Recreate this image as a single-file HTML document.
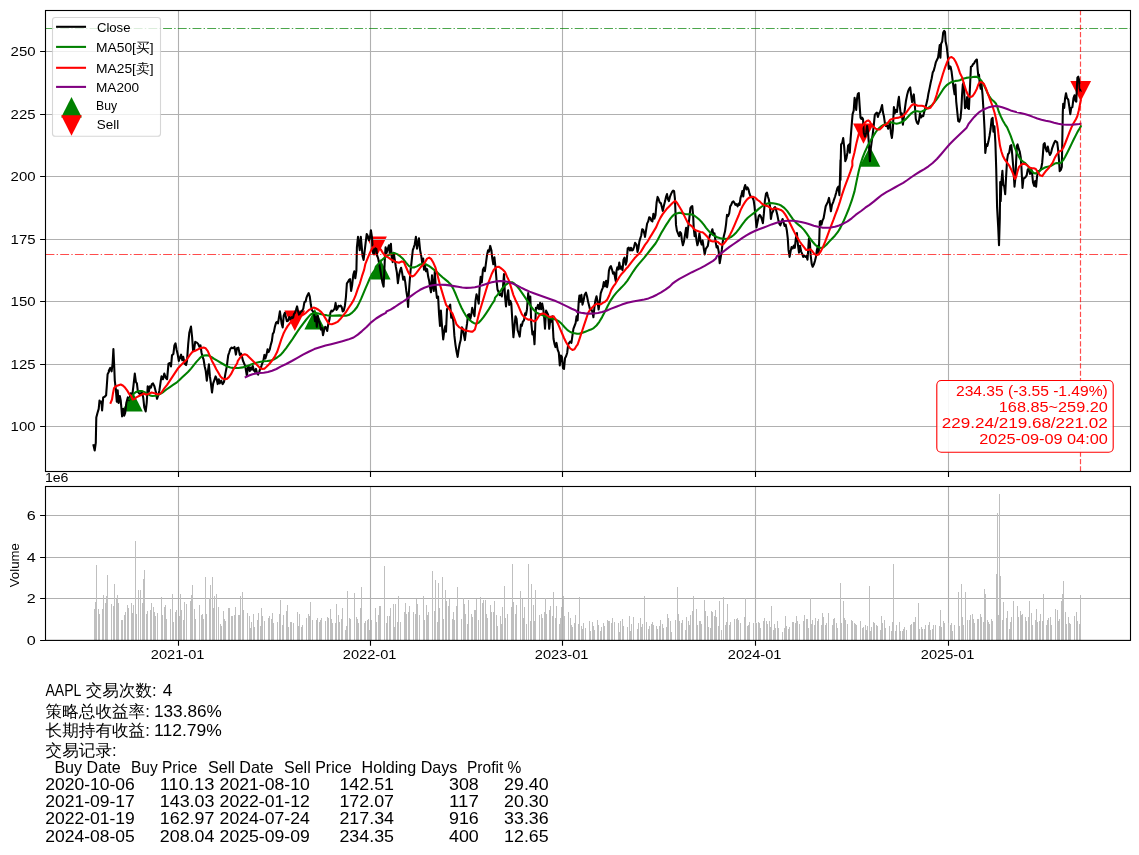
<!DOCTYPE html>
<html lang="zh"><head><meta charset="utf-8"><title>AAPL MA strategy backtest</title>
<style>html,body{margin:0;padding:0;background:#fff}body{width:1139px;height:855px;overflow:hidden}svg{display:block}text{white-space:pre}</style>
</head><body>
<svg width="1139" height="855" viewBox="0 0 1139 855" font-family="'Liberation Sans','WenQuanYi Zen Hei',sans-serif">
<rect width="1139" height="855" fill="#fff"/>
<g id="price-axes">
<polygon points="122.0,411.6 142.8,411.6 132.4,391.2" fill="#008000"/>
<polygon points="304.4,329.4 325.2,329.4 314.8,308.9" fill="#008000"/>
<polygon points="369.8,279.5 390.6,279.5 380.2,259.1" fill="#008000"/>
<polygon points="859.5,166.8 880.3,166.8 869.9,146.4" fill="#008000"/>
<polygon points="284.4,310.5 305.2,310.5 294.8,330.9" fill="#ff0000"/>
<polygon points="366.1,236.6 386.9,236.6 376.5,257.0" fill="#ff0000"/>
<polygon points="853.1,123.4 873.9,123.4 863.5,143.8" fill="#ff0000"/>
<polygon points="1070.3,80.9 1091.1,80.9 1080.7,101.3" fill="#ff0000"/>
<path d="M178.5 10.5 V471.5 M370.5 10.5 V471.5 M562.5 10.5 V471.5 M755.5 10.5 V471.5 M948.5 10.5 V471.5 M45.5 426.5 H1130.5 M45.5 364.5 H1130.5 M45.5 301.5 H1130.5 M45.5 239.5 H1130.5 M45.5 176.5 H1130.5 M45.5 114.5 H1130.5 M45.5 51.5 H1130.5" stroke="#b0b0b0" stroke-width="1.11" fill="none"/>
<clipPath id="c1"><rect x="45.5" y="10.5" width="1085.0" height="461.0"/></clipPath>
<g clip-path="url(#c1)">
<path d="M93.5 445.3 L94.7 450.5 L95.8 442.6 L96.1 426.8 L96.3 417.4 L97.4 413.2 L98.7 408.9 L99.5 400.5 L100.5 402.6 L101.4 401.6 L102.1 410.5 L102.6 404.7 L103.2 397.4 L104.7 396.8 L106.1 395.3 L106.8 385.8 L107.6 374.2 L109.0 371.6 L108.8 370.7 L110.2 367.9 L111.6 371.4 L112.6 363.7 L113.4 349.0 L114.1 363.7 L114.8 380.6 L115.8 389.0 L116.8 401.6 L117.7 390.4 L118.6 403.0 L119.8 396.0 L120.7 400.2 L122.1 416.4 L123.3 408.7 L124.2 415.7 L125.2 412.9 L126.3 403.0 L127.8 397.4 L129.2 400.2 L130.6 393.2 L132.2 396.0 L133.4 386.2 L134.8 373.6 L135.9 382.0 L136.9 383.4 L137.9 391.8 L139.0 393.2 L140.4 394.6 L141.8 391.8 L143.2 397.4 L144.3 407.3 L145.7 411.5 L146.7 403.0 L147.7 386.2 L148.8 391.8 L149.9 386.2 L150.9 387.6 L151.9 384.1 L153.0 383.4 L154.4 386.2 L155.8 391.8 L157.0 398.8 L158.0 396.0 L159.4 390.4 L160.8 380.6 L161.5 376.4 L162.9 379.2 L164.3 373.6 L165.7 377.8 L167.1 379.2 L168.5 363.7 L169.9 363.0 L171.0 366.5 L172.0 355.3 L173.4 353.9 L174.4 345.4 L175.5 343.3 L176.6 349.7 L177.6 353.9 L178.8 360.9 L180.0 357.4 L181.1 354.6 L182.3 360.2 L183.2 356.7 L184.7 363.7 L186.1 365.1 L187.0 360.9 L188.2 344.1 L189.3 332.8 L191.0 326.5 L192.1 337.0 L193.1 351.1 L194.1 349.7 L195.2 341.9 L196.9 342.6 L198.3 344.1 L199.4 346.9 L200.5 345.4 L201.5 352.5 L202.5 356.7 L203.6 359.5 L204.7 366.5 L205.7 370.7 L206.8 380.6 L207.8 372.1 L208.9 364.4 L209.9 376.4 L210.9 383.4 L212.0 392.5 L213.2 383.4 L214.2 380.6 L215.6 376.4 L216.5 378.5 L217.7 384.1 L218.8 379.2 L219.8 383.4 L221.2 380.6 L222.6 384.1 L224.0 382.0 L225.4 373.6 L226.8 366.5 L228.2 355.3 L229.2 352.5 L230.3 349.0 L231.7 347.6 L233.1 348.3 L234.5 346.9 L235.9 354.6 L237.0 348.3 L238.4 347.6 L239.8 354.9 L241.0 353.5 L241.9 356.3 L242.9 360.5 L244.1 363.3 L245.2 366.1 L246.2 371.8 L246.9 376.0 L247.6 368.9 L248.5 366.1 L249.7 371.1 L250.8 367.5 L251.8 369.6 L252.8 366.1 L253.9 370.4 L255.0 371.8 L256.0 368.9 L257.0 373.2 L258.1 374.6 L259.2 371.8 L260.2 368.9 L261.2 366.8 L262.3 363.3 L263.4 360.5 L264.4 354.9 L265.4 358.4 L266.5 354.9 L267.6 349.3 L268.6 352.1 L269.8 349.3 L270.7 345.1 L271.9 340.9 L272.8 333.8 L273.8 332.4 L274.9 326.8 L276.1 322.6 L277.1 321.9 L278.0 323.3 L279.2 315.6 L279.9 311.4 L280.9 318.4 L281.7 324.0 L282.7 327.5 L283.7 315.6 L284.8 312.8 L285.9 317.0 L286.9 321.2 L288.3 320.5 L289.3 317.0 L290.4 319.1 L291.8 317.0 L292.9 318.4 L293.9 314.2 L294.9 312.8 L296.0 309.9 L297.1 306.4 L298.1 311.4 L299.1 314.9 L300.2 312.8 L301.4 311.4 L302.3 310.6 L303.3 308.6 L304.4 302.2 L305.6 301.5 L306.6 297.3 L307.5 295.2 L308.7 293.1 L309.8 296.6 L310.8 304.3 L311.8 309.9 L312.9 311.4 L314.0 313.5 L315.0 321.2 L316.0 317.0 L316.8 326.8 L317.8 315.6 L318.8 320.5 L319.9 324.0 L321.0 329.6 L322.0 328.2 L323.0 335.2 L324.1 330.3 L325.2 326.8 L326.2 327.5 L327.2 331.0 L328.3 324.0 L329.4 319.8 L330.4 312.8 L331.4 310.6 L332.5 311.4 L333.7 309.9 L334.6 308.6 L335.6 302.9 L336.5 309.9 L337.5 308.6 L338.4 305.7 L339.6 306.4 L340.7 305.7 L341.7 307.1 L342.7 311.4 L343.8 310.6 L344.9 305.7 L345.9 297.3 L346.9 283.3 L348.0 281.9 L349.1 279.8 L350.1 279.1 L351.1 291.0 L352.2 284.7 L353.3 274.8 L354.3 271.3 L355.3 278.3 L356.4 270.6 L356.9 247.3 L358.0 236.8 L359.0 244.5 L359.7 250.1 L360.8 236.8 L361.8 247.3 L362.5 255.7 L363.6 259.9 L364.6 251.5 L365.6 243.1 L366.7 234.0 L367.8 236.1 L368.8 240.3 L369.8 238.9 L370.9 230.2 L372.0 237.5 L373.0 252.9 L374.0 254.3 L375.1 248.7 L376.2 247.3 L377.2 255.7 L378.2 258.6 L379.3 264.2 L380.5 271.2 L381.4 276.8 L382.4 282.4 L383.6 286.6 L384.2 274.0 L384.9 257.1 L385.6 247.3 L386.6 252.9 L387.8 248.7 L388.9 245.2 L389.9 254.3 L390.9 243.8 L391.7 257.1 L392.7 262.1 L393.7 252.9 L394.8 259.9 L395.9 267.0 L396.9 272.6 L397.9 283.1 L399.0 275.4 L400.1 270.5 L401.1 267.7 L402.1 272.6 L403.2 279.6 L404.3 276.8 L405.3 282.4 L406.3 290.9 L407.4 297.9 L408.1 307.0 L408.8 293.7 L409.5 283.8 L410.5 271.2 L411.6 261.4 L412.8 250.1 L413.8 247.3 L414.7 244.5 L415.9 236.8 L417.0 248.7 L418.0 243.1 L418.9 238.2 L420.1 250.1 L421.2 255.7 L422.2 262.8 L423.2 258.6 L424.0 269.8 L425.0 265.6 L426.0 271.2 L427.1 269.1 L428.2 276.8 L429.2 281.0 L430.2 288.0 L431.0 292.3 L432.0 275.4 L432.7 285.2 L433.8 290.9 L434.8 271.2 L435.8 288.0 L436.9 297.9 L438.1 296.5 L439.0 313.3 L440.0 326.0 L440.9 310.5 L441.8 323.2 L442.8 335.0 L443.2 339.4 L444.2 331.6 L445.3 326.0 L446.0 331.6 L447.0 309.2 L448.1 307.8 L449.2 306.4 L450.2 304.7 L451.2 317.6 L452.3 314.8 L453.4 321.8 L454.4 335.9 L455.4 344.3 L456.5 351.3 L457.6 356.9 L458.6 349.9 L459.6 344.3 L460.7 340.1 L461.9 327.4 L462.8 328.8 L463.8 334.4 L464.9 340.1 L466.1 330.2 L467.1 323.2 L468.0 314.8 L469.2 314.1 L470.3 319.0 L471.3 314.8 L472.2 307.8 L473.4 312.0 L474.5 316.2 L475.5 300.7 L476.5 294.4 L477.6 297.9 L478.7 303.6 L479.7 286.7 L480.7 276.9 L481.8 282.5 L482.9 269.8 L483.9 267.7 L484.9 271.2 L486.0 262.8 L487.1 254.4 L488.1 250.2 L489.1 251.6 L490.2 245.9 L491.4 250.2 L492.3 258.6 L493.3 264.2 L494.4 257.2 L495.6 268.4 L496.6 281.1 L497.5 289.5 L498.7 292.3 L499.8 295.1 L500.8 293.7 L501.8 296.5 L502.9 288.1 L504.0 274.1 L505.0 296.5 L506.0 306.4 L507.1 296.5 L508.2 290.2 L509.2 304.9 L510.2 300.7 L511.3 303.6 L512.4 321.8 L513.4 337.3 L514.4 327.4 L515.5 316.2 L516.6 319.0 L517.6 330.2 L518.6 333.0 L519.7 336.6 L520.9 324.6 L521.8 326.0 L522.8 321.8 L524.0 320.4 L525.1 313.4 L526.0 314.8 L527.0 309.2 L528.2 293.0 L529.3 302.1 L530.3 296.5 L531.2 321.8 L532.4 334.4 L533.5 331.6 L534.5 344.3 L535.2 327.4 L535.9 307.8 L536.9 308.5 L538.0 304.9 L539.1 309.2 L540.1 302.8 L541.1 309.2 L542.2 303.6 L543.3 309.2 L544.3 319.0 L545.0 328.8 L546.1 310.6 L547.1 312.7 L548.1 314.8 L549.2 328.8 L550.4 319.0 L551.3 321.8 L552.3 316.2 L553.5 338.7 L554.6 344.3 L555.5 347.1 L556.5 342.9 L557.7 349.9 L558.8 352.7 L559.8 365.4 L560.8 355.5 L561.9 356.9 L563.0 368.2 L564.0 368.9 L565.0 358.3 L566.1 356.2 L567.2 352.7 L568.2 344.3 L569.2 342.9 L570.3 341.5 L571.4 342.9 L572.4 335.9 L573.4 328.8 L574.5 326.0 L575.6 323.2 L576.6 316.2 L577.6 320.4 L578.7 302.1 L579.4 295.5 L580.4 301.8 L581.4 294.8 L582.5 304.6 L583.6 300.4 L584.6 294.8 L586.0 292.7 L587.0 296.2 L588.1 301.8 L589.2 306.0 L590.2 310.2 L591.2 308.8 L592.3 311.6 L593.4 317.3 L594.4 307.4 L595.4 300.4 L596.5 296.2 L597.6 301.8 L598.6 309.5 L599.6 303.2 L600.7 293.4 L601.9 289.9 L602.8 287.8 L603.8 282.1 L605.0 286.4 L606.1 280.7 L607.1 287.1 L608.0 282.1 L608.9 270.9 L609.9 267.4 L610.9 266.0 L612.0 269.5 L613.1 273.7 L614.1 272.3 L615.1 277.9 L615.9 281.4 L616.5 270.9 L617.3 267.4 L618.3 269.5 L619.3 262.5 L620.4 268.8 L621.5 266.7 L622.5 270.2 L623.5 259.7 L624.6 257.6 L625.7 264.6 L626.7 261.1 L627.7 248.4 L628.8 247.7 L630.0 250.5 L630.9 247.7 L631.9 250.5 L633.0 249.8 L634.2 246.3 L635.1 242.8 L636.6 244.9 L637.5 251.9 L638.4 248.4 L639.4 241.4 L640.1 239.0 L641.2 235.5 L642.2 229.2 L643.2 229.9 L644.3 233.4 L645.0 236.9 L646.0 230.6 L647.1 223.6 L648.2 221.4 L649.2 217.2 L650.2 217.9 L651.3 220.7 L652.4 221.4 L653.4 213.7 L654.4 218.6 L655.5 215.1 L656.6 202.5 L657.6 196.9 L658.6 199.0 L659.7 202.5 L660.9 203.2 L661.8 206.7 L662.8 210.9 L664.0 205.3 L665.1 201.1 L666.0 196.9 L667.0 194.1 L667.9 199.0 L668.9 201.1 L669.9 196.9 L671.0 194.1 L672.1 191.9 L673.1 190.5 L674.1 191.2 L674.9 198.3 L675.5 212.3 L676.0 224.9 L676.9 230.6 L678.0 233.4 L679.1 236.2 L680.1 232.0 L681.1 233.4 L681.9 240.4 L682.9 245.3 L683.9 241.8 L685.0 234.8 L686.1 227.8 L687.1 237.6 L688.1 227.8 L689.2 219.3 L690.4 208.1 L691.3 206.7 L692.3 206.0 L693.2 216.5 L693.7 227.8 L694.6 236.2 L695.5 232.0 L696.5 240.4 L697.4 245.3 L698.4 241.8 L699.4 233.4 L700.5 240.4 L701.6 244.6 L702.6 240.4 L703.6 247.4 L704.7 254.4 L705.8 248.8 L706.8 247.4 L707.8 246.0 L708.9 239.0 L710.0 234.8 L711.0 233.4 L712.4 229.2 L713.4 234.8 L714.5 233.4 L715.6 241.8 L716.6 247.4 L717.6 246.0 L718.7 251.6 L718.7 251.3 L719.7 263.2 L720.8 256.9 L721.8 249.9 L722.8 241.5 L723.9 235.8 L725.0 231.6 L726.0 224.6 L727.0 214.8 L728.1 216.2 L729.2 213.4 L730.2 206.3 L731.2 204.9 L732.3 202.1 L733.4 201.4 L734.4 202.8 L735.4 204.9 L736.5 204.2 L737.6 206.3 L738.6 203.6 L739.6 204.9 L740.5 197.9 L741.4 195.1 L742.4 190.9 L743.3 196.5 L744.2 188.1 L745.2 185.0 L746.4 189.5 L747.5 187.4 L748.5 189.5 L749.5 193.7 L750.6 196.5 L751.7 197.2 L752.7 197.9 L753.7 200.7 L754.5 206.3 L755.5 216.2 L756.5 227.4 L757.6 221.8 L758.7 216.2 L759.7 214.8 L760.7 216.2 L761.8 219.0 L762.9 223.2 L763.9 213.4 L764.9 200.7 L766.0 193.7 L766.9 192.6 L767.9 196.5 L768.8 199.3 L770.0 206.3 L770.9 219.0 L771.9 213.4 L773.0 211.3 L774.2 207.8 L775.1 207.1 L776.1 209.9 L777.3 214.8 L778.4 220.4 L779.4 223.9 L780.4 225.3 L781.5 221.8 L782.6 219.0 L783.6 222.5 L784.6 226.0 L785.7 224.6 L786.8 230.2 L787.8 238.7 L788.5 249.9 L789.6 256.9 L790.6 251.3 L791.6 247.1 L792.7 248.5 L793.8 245.7 L794.8 247.8 L795.8 238.7 L796.9 233.0 L797.9 244.3 L799.0 252.7 L800.0 245.7 L801.1 251.3 L802.3 254.1 L803.2 256.9 L804.2 255.5 L805.4 256.9 L806.5 256.2 L807.5 259.7 L808.2 249.9 L808.9 238.7 L809.9 242.9 L810.7 255.5 L811.7 263.9 L812.7 266.8 L813.8 264.6 L814.9 261.1 L815.9 256.9 L816.9 249.9 L818.0 245.7 L818.7 254.1 L819.4 235.8 L819.8 221.8 L820.5 221.1 L821.5 224.6 L822.5 220.4 L823.6 218.3 L824.7 212.0 L825.7 206.3 L826.7 204.2 L827.8 202.1 L829.0 197.9 L829.9 203.6 L830.9 211.3 L832.0 204.9 L833.2 202.1 L834.1 199.3 L835.1 196.5 L836.3 192.3 L837.4 188.1 L838.4 186.7 L839.4 195.1 L839.9 181.1 L840.5 160.0 L840.5 180.0 L840.8 158.3 L841.1 144.3 L842.2 142.9 L843.2 138.0 L844.2 147.1 L845.3 161.1 L846.4 158.3 L847.4 152.7 L848.1 145.7 L849.2 144.3 L849.8 152.7 L850.6 138.7 L851.6 126.0 L852.6 114.1 L853.7 110.6 L854.6 97.9 L855.4 102.1 L856.2 109.9 L857.1 97.9 L857.9 93.7 L858.8 93.0 L859.6 105.0 L860.5 117.6 L861.4 119.0 L862.1 117.6 L863.0 119.0 L863.8 133.0 L865.0 136.6 L866.1 133.0 L867.1 126.0 L868.0 131.6 L868.9 144.3 L869.9 161.1 L870.6 149.9 L871.7 141.5 L872.7 134.4 L873.7 126.0 L874.8 114.8 L875.9 113.4 L876.9 112.7 L877.9 116.9 L879.0 113.4 L880.1 112.0 L881.1 108.5 L882.1 105.0 L882.9 112.0 L883.9 116.2 L884.9 123.2 L886.0 126.0 L887.1 125.3 L888.1 128.8 L889.1 126.0 L890.0 121.8 L890.9 133.0 L891.9 138.0 L892.8 130.2 L893.3 119.0 L893.9 107.1 L894.7 113.4 L895.9 109.9 L897.0 112.0 L898.0 102.1 L898.9 96.8 L899.8 106.3 L900.8 114.8 L901.8 113.4 L902.9 124.6 L904.0 116.2 L905.0 107.8 L906.0 100.7 L907.1 95.1 L908.2 90.9 L909.2 88.8 L910.2 87.4 L911.3 96.5 L912.1 102.1 L913.0 97.2 L913.8 94.4 L914.8 105.0 L915.8 119.0 L916.9 122.5 L918.0 123.9 L919.0 120.4 L920.0 113.4 L921.1 117.6 L922.3 115.5 L923.2 116.2 L924.2 112.0 L925.4 107.8 L926.5 103.5 L927.5 99.3 L928.4 93.7 L929.6 88.1 L930.7 82.5 L931.7 78.3 L932.7 72.6 L933.8 70.5 L934.9 66.3 L935.9 62.1 L936.9 60.0 L938.0 57.8 L939.0 50.7 L939.7 45.1 L940.4 57.8 L941.1 43.7 L942.2 41.6 L943.2 32.5 L944.2 30.8 L945.0 31.8 L945.6 41.6 L946.7 46.5 L947.8 56.4 L948.8 69.0 L949.5 66.2 L950.6 66.9 L951.6 71.8 L952.6 80.2 L953.7 88.7 L954.6 94.3 L955.4 84.5 L956.2 101.3 L957.2 111.1 L958.2 121.0 L959.3 121.7 L960.5 118.2 L961.4 108.3 L962.1 94.3 L962.8 84.5 L963.5 83.0 L964.2 91.5 L965.0 108.3 L966.1 106.9 L967.1 97.1 L968.0 108.3 L968.9 109.0 L969.5 97.1 L970.3 80.2 L970.9 66.9 L972.0 66.2 L973.1 64.1 L974.1 63.4 L975.1 61.3 L976.2 59.9 L976.9 59.5 L977.6 69.0 L978.3 76.0 L979.0 74.6 L979.7 83.0 L980.7 88.7 L981.5 83.8 L982.5 94.3 L983.2 105.5 L983.9 116.8 L984.6 130.0 L984.6 130.4 L985.3 152.9 L986.4 144.4 L987.4 145.8 L988.4 141.6 L989.5 136.0 L990.6 129.0 L991.6 119.2 L992.6 117.8 L993.4 131.8 L994.4 126.2 L995.4 143.0 L996.2 168.3 L997.1 207.4 L998.2 227.1 L999.0 245.3 L999.8 218.7 L1000.2 182.1 L1000.7 201.1 L1001.4 182.1 L1002.4 170.9 L1003.3 184.9 L1004.2 186.3 L1005.2 194.1 L1006.1 176.8 L1007.1 159.9 L1008.0 154.3 L1009.2 152.9 L1010.3 145.8 L1011.3 145.2 L1012.2 154.3 L1013.4 168.3 L1014.5 186.6 L1015.5 176.8 L1016.2 159.9 L1016.9 145.8 L1017.6 144.4 L1018.7 148.7 L1019.7 151.5 L1020.7 157.1 L1021.5 168.3 L1022.5 188.0 L1023.5 178.2 L1024.6 178.2 L1025.7 176.8 L1026.7 175.3 L1027.7 169.7 L1028.8 168.3 L1030.0 173.9 L1030.9 168.3 L1031.9 171.1 L1033.0 182.4 L1034.2 185.9 L1035.2 181.0 L1036.1 186.6 L1037.0 176.8 L1038.0 171.1 L1038.9 171.8 L1040.1 170.4 L1041.2 168.3 L1042.2 162.7 L1042.9 154.3 L1043.6 144.4 L1044.6 143.0 L1045.7 148.7 L1046.8 151.5 L1047.8 146.6 L1048.8 151.5 L1049.9 155.0 L1051.0 152.9 L1052.0 148.7 L1053.0 145.8 L1054.1 143.0 L1055.2 140.9 L1056.2 141.6 L1057.2 142.3 L1058.0 148.7 L1059.0 159.9 L1059.7 171.1 L1060.9 169.7 L1061.8 166.9 L1062.3 140.2 L1062.8 112.1 L1063.2 103.7 L1064.2 107.9 L1065.1 98.1 L1066.0 93.2 L1067.0 98.1 L1068.2 99.5 L1069.3 106.5 L1070.3 114.2 L1071.2 107.9 L1072.4 107.2 L1073.5 98.1 L1074.5 95.3 L1075.5 100.9 L1076.3 101.6 L1076.9 86.9 L1077.4 77.7 L1078.3 76.7 L1079.1 79.8 L1079.7 88.3 L1080.5 91.1" fill="none" stroke="#000" stroke-width="2.08" stroke-linejoin="round" stroke-linecap="square" />
<path d="M129.4 399.1 L130.8 397.3 L132.7 395.3 L134.1 393.4 L136.2 391.9 L139.0 391.0 L141.8 391.0 L144.6 392.1 L147.4 393.8 L150.2 395.4 L152.3 396.0 L155.2 395.7 L158.0 394.9 L160.8 393.6 L163.6 391.8 L166.4 389.5 L169.9 387.1 L173.4 384.7 L176.9 382.3 L179.7 379.8 L182.5 377.1 L185.3 374.4 L188.2 371.8 L191.0 368.6 L193.8 365.1 L196.6 361.6 L199.4 358.6 L201.5 356.6 L203.6 355.6 L206.4 355.2 L208.5 355.6 L211.3 356.9 L214.2 358.8 L217.7 360.9 L221.2 363.0 L224.7 365.0 L227.5 366.6 L230.3 367.5 L233.1 367.9 L235.9 368.0 L238.4 368.0 L242.6 367.4 L246.9 366.1 L251.1 364.5 L255.3 363.1 L259.5 362.0 L263.7 361.3 L267.2 361.0 L270.7 360.6 L273.6 359.5 L277.1 357.5 L280.6 354.9 L283.4 351.7 L286.2 348.1 L289.0 344.2 L291.8 340.2 L294.6 335.9 L297.4 331.7 L300.2 327.7 L303.0 323.8 L305.9 320.0 L308.7 316.6 L310.8 314.4 L312.9 313.3 L315.7 313.1 L318.5 313.5 L321.3 314.2 L324.1 314.8 L326.9 315.3 L329.7 315.6 L332.5 315.7 L335.4 315.6 L339.6 315.4 L342.4 315.7 L345.9 315.8 L348.7 315.1 L351.5 313.2 L354.3 310.5 L357.1 307.0 L359.2 302.9 L361.3 298.4 L363.4 293.3 L365.6 288.2 L367.7 283.3 L369.8 278.5 L371.9 274.1 L374.7 270.2 L375.8 266.8 L378.6 263.6 L381.4 260.6 L384.2 258.0 L387.1 255.9 L389.9 254.3 L392.7 253.2 L394.8 253.1 L397.6 254.4 L400.4 256.4 L403.2 259.1 L406.0 262.6 L408.8 265.9 L411.6 267.5 L414.4 267.4 L417.3 266.1 L420.1 264.5 L422.9 263.8 L425.7 264.3 L428.5 265.7 L431.3 267.7 L434.1 269.8 L436.9 272.1 L439.7 274.7 L442.5 277.3 L445.4 279.6 L448.2 281.9 L451.0 284.7 L453.1 288.4 L455.2 293.0 L457.3 298.1 L459.4 303.1 L461.5 307.7 L463.6 311.7 L465.7 315.3 L467.8 318.1 L469.9 320.2 L472.0 322.0 L474.1 323.2 L476.3 323.7 L478.4 322.9 L480.5 320.8 L483.3 317.4 L486.1 313.3 L488.9 309.1 L491.7 304.5 L494.5 300.3 L495.1 297.6 L497.3 295.1 L499.4 292.3 L501.5 289.5 L503.6 286.9 L505.7 284.8 L507.8 283.3 L509.9 282.3 L512.0 282.2 L514.1 283.5 L516.9 286.2 L519.7 289.7 L522.5 293.7 L525.4 297.9 L528.2 302.1 L531.0 306.4 L533.8 310.1 L536.6 312.7 L539.4 314.0 L542.2 315.0 L545.0 316.2 L547.8 317.4 L550.6 318.2 L553.5 318.9 L556.3 319.8 L559.1 321.5 L561.9 324.1 L564.7 327.2 L567.5 330.1 L570.3 332.0 L573.1 333.0 L575.9 333.5 L576.9 333.7 L579.7 333.6 L582.5 332.8 L585.3 331.7 L588.1 330.6 L590.9 329.6 L593.7 328.1 L596.5 325.5 L599.3 321.8 L602.1 317.1 L605.0 311.5 L607.8 305.7 L610.6 300.6 L613.4 296.4 L616.2 292.9 L619.0 289.9 L621.8 287.1 L624.6 284.1 L627.4 280.6 L630.2 276.3 L633.0 271.8 L635.9 267.6 L638.7 264.1 L641.5 260.9 L644.3 257.6 L647.1 254.1 L649.9 250.5 L652.7 247.0 L655.5 243.5 L657.6 239.9 L659.7 236.1 L661.8 232.1 L664.0 228.5 L666.0 225.1 L668.2 221.8 L670.3 218.7 L672.4 216.1 L674.5 214.3 L676.6 213.4 L678.7 212.9 L680.8 212.9 L682.9 213.4 L685.0 214.0 L687.1 214.3 L689.2 214.3 L691.3 214.4 L693.5 215.1 L695.5 216.5 L697.7 218.2 L699.8 220.1 L701.9 222.3 L704.0 224.9 L706.1 227.8 L708.2 230.4 L710.3 232.7 L712.4 234.6 L714.5 236.0 L716.6 236.7 L716.9 237.3 L719.7 238.1 L722.5 238.8 L725.3 238.9 L728.1 238.4 L730.9 237.1 L733.7 235.0 L736.5 232.2 L739.3 228.7 L742.1 224.6 L745.0 220.8 L747.8 217.8 L750.6 215.5 L753.4 213.4 L756.2 211.1 L759.0 208.6 L761.8 206.5 L764.6 204.7 L767.4 203.5 L770.2 203.1 L773.0 203.2 L775.9 203.7 L778.7 204.4 L781.5 205.8 L784.3 207.9 L787.1 210.9 L789.9 214.8 L792.7 218.8 L795.5 222.2 L798.3 224.6 L801.1 226.9 L804.0 229.9 L806.8 233.7 L809.6 237.8 L812.4 241.5 L815.2 244.7 L818.0 247.1 L820.8 248.0 L823.6 247.3 L826.4 244.8 L829.2 241.6 L832.0 238.7 L834.9 235.7 L837.7 232.2 L840.5 227.6 L843.3 221.8 L846.1 215.3 L848.9 208.5 L851.7 200.7 L854.5 191.4 L856.6 181.1 L858.7 171.3 L860.7 163.5 L862.8 157.1 L865.0 151.7 L867.1 147.1 L869.2 143.1 L871.3 139.4 L873.4 135.9 L875.5 132.5 L877.6 129.7 L879.7 127.5 L881.8 125.9 L883.9 124.7 L886.0 123.8 L888.1 122.9 L890.2 122.3 L892.3 122.6 L894.5 123.3 L896.6 123.7 L898.7 123.3 L900.8 122.5 L902.9 121.4 L905.0 119.9 L907.1 117.8 L909.2 115.5 L911.3 113.3 L913.4 111.8 L915.5 111.2 L917.6 111.3 L919.7 111.7 L921.8 111.5 L924.0 110.5 L926.0 109.2 L928.2 107.8 L930.3 106.5 L932.4 104.7 L934.5 102.1 L936.6 99.3 L938.7 96.3 L940.8 93.0 L942.9 89.7 L945.0 86.9 L947.1 84.8 L949.2 83.3 L951.3 82.2 L953.5 81.4 L955.5 80.9 L957.7 80.7 L959.8 80.2 L961.9 79.3 L964.0 78.4 L966.1 77.9 L968.9 77.5 L971.7 77.2 L974.5 76.8 L976.9 76.9 L979.0 78.2 L981.1 80.4 L983.2 83.6 L985.3 88.0 L987.4 92.7 L989.5 96.7 L991.6 99.5 L993.8 101.3 L995.9 103.4 L997.3 106.9 L998.7 111.5 L1000.8 116.4 L1002.9 120.8 L1005.0 124.3 L1007.1 127.3 L1008.5 130.6 L1010.6 135.6 L1012.7 141.6 L1014.8 147.6 L1016.9 152.7 L1019.0 156.9 L1021.1 160.1 L1023.2 161.8 L1025.3 163.2 L1027.4 165.5 L1029.5 168.3 L1031.6 171.1 L1033.8 173.1 L1035.8 173.4 L1038.0 172.0 L1040.1 170.4 L1042.2 169.0 L1044.3 167.8 L1046.4 167.0 L1048.5 166.6 L1050.6 166.0 L1052.7 164.8 L1054.8 163.6 L1056.9 163.1 L1059.0 163.2 L1061.1 162.7 L1063.2 160.2 L1065.3 156.4 L1067.5 152.2 L1069.6 148.0 L1071.7 143.6 L1073.8 139.2 L1075.9 135.1 L1078.0 131.1 L1080.1 127.8 L1080.8 126.2" fill="none" stroke="#008000" stroke-width="2.08" stroke-linejoin="round" stroke-linecap="square" />
<path d="M110.6 402.8 L112.0 399.5 L113.0 393.2 L114.0 388.3 L115.8 386.2 L117.9 385.5 L120.7 384.5 L122.8 385.5 L125.0 387.6 L127.1 390.4 L129.2 393.9 L131.3 396.0 L132.7 399.5 L134.8 399.1 L136.2 397.4 L139.0 396.0 L141.8 394.6 L143.9 393.5 L146.0 394.6 L148.8 393.9 L151.6 392.5 L154.4 393.2 L157.3 394.3 L159.4 394.3 L161.5 392.5 L164.3 388.3 L167.1 384.8 L169.9 380.6 L172.7 376.4 L175.5 372.1 L178.3 367.9 L181.1 365.1 L183.9 362.3 L186.8 359.5 L189.6 355.3 L192.4 351.8 L195.2 350.8 L198.0 349.4 L200.8 348.0 L203.6 347.6 L205.7 348.3 L207.8 351.1 L209.9 356.0 L212.0 360.9 L214.2 365.1 L216.3 369.3 L218.4 372.8 L220.5 376.4 L222.6 378.5 L224.7 379.2 L226.8 378.9 L228.9 377.1 L231.0 374.2 L233.1 370.0 L235.2 366.5 L237.3 363.0 L237.7 361.2 L240.5 357.0 L242.6 354.9 L244.8 354.2 L246.9 354.9 L249.7 357.7 L252.5 360.5 L255.3 363.3 L258.1 366.1 L260.2 368.2 L262.3 368.9 L264.4 368.7 L266.5 366.8 L269.3 364.0 L272.1 360.5 L274.9 356.3 L277.1 352.1 L279.2 345.8 L281.3 339.4 L283.4 333.8 L285.5 329.6 L287.6 326.1 L289.7 323.3 L291.8 321.2 L294.6 319.1 L297.4 317.7 L300.2 316.3 L303.0 314.9 L305.9 312.8 L308.7 310.2 L311.5 308.6 L313.6 307.6 L315.7 308.3 L318.5 309.7 L321.3 312.1 L323.4 314.9 L325.5 318.4 L327.6 321.9 L329.7 324.0 L331.8 324.3 L334.6 323.3 L337.5 321.9 L340.3 319.1 L343.1 315.6 L345.9 312.1 L348.7 307.8 L351.5 303.6 L353.6 300.1 L355.7 295.2 L357.8 288.9 L359.9 283.3 L362.0 276.2 L364.1 269.9 L365.3 264.2 L368.1 257.1 L370.2 252.2 L372.3 248.0 L374.4 245.9 L376.5 246.6 L378.6 248.0 L380.7 249.4 L382.8 252.9 L384.9 255.7 L387.8 257.1 L390.6 259.2 L393.4 260.6 L396.2 262.1 L399.0 262.8 L401.8 261.4 L403.9 262.1 L406.0 267.0 L408.1 271.9 L410.2 275.4 L412.3 276.5 L414.4 275.4 L416.6 272.6 L418.7 269.8 L420.8 267.0 L422.9 264.9 L425.0 262.1 L427.1 258.6 L429.2 257.6 L431.3 259.2 L433.4 262.8 L435.5 267.7 L437.6 275.4 L439.7 283.8 L441.8 290.9 L443.9 297.9 L446.1 304.9 L448.2 307.7 L450.3 310.5 L452.4 313.3 L454.5 318.9 L456.6 324.6 L459.4 327.4 L462.2 328.8 L465.0 330.2 L467.8 330.9 L470.6 331.6 L472.7 331.6 L474.9 329.5 L477.0 321.8 L479.1 313.3 L481.2 306.3 L483.3 299.3 L485.4 292.3 L487.5 285.2 L489.6 279.6 L491.7 274.0 L493.8 269.8 L495.9 267.7 L496.6 267.0 L498.7 266.7 L500.8 268.1 L502.9 269.8 L505.0 271.9 L507.1 276.9 L509.2 281.1 L511.3 288.1 L513.4 295.1 L515.5 300.0 L517.6 304.2 L519.7 309.2 L521.8 314.1 L524.0 316.9 L526.0 318.3 L528.2 319.7 L530.3 319.4 L532.4 320.4 L534.5 321.5 L536.6 319.7 L538.7 316.2 L540.8 314.1 L542.9 313.4 L545.0 314.1 L547.1 315.5 L549.2 316.9 L551.3 316.9 L553.5 316.2 L555.5 319.0 L557.7 323.2 L559.8 328.1 L561.9 333.0 L564.0 338.0 L566.1 342.2 L568.2 345.7 L570.3 348.5 L572.4 349.9 L574.5 349.2 L576.6 345.7 L577.6 344.6 L579.7 338.3 L581.8 332.0 L583.9 325.7 L586.0 319.4 L588.1 313.0 L590.2 309.5 L592.3 307.4 L594.4 305.3 L596.5 303.9 L598.6 303.9 L600.7 304.3 L602.8 302.9 L605.0 301.8 L607.1 299.7 L609.2 295.5 L611.3 289.9 L613.4 286.4 L615.5 283.6 L617.6 280.0 L619.7 276.5 L621.8 273.7 L623.9 271.6 L626.0 268.8 L628.1 266.7 L630.2 263.9 L632.3 261.1 L634.5 258.3 L636.6 256.1 L638.7 254.1 L640.8 251.9 L642.9 248.4 L645.0 244.9 L647.1 242.1 L648.5 240.0 L649.9 237.6 L652.0 234.1 L654.1 230.6 L656.2 227.1 L658.3 222.1 L660.4 217.9 L662.5 214.4 L664.6 211.6 L666.8 208.8 L668.9 206.7 L671.0 204.6 L673.1 202.5 L675.2 200.8 L677.3 203.2 L679.4 206.7 L681.5 210.2 L683.6 214.4 L685.7 218.6 L687.8 222.8 L689.9 224.9 L692.0 226.3 L694.1 229.2 L696.3 230.6 L698.4 231.3 L700.5 232.0 L702.6 232.2 L704.7 234.1 L706.8 236.2 L708.9 239.0 L711.0 241.1 L713.1 241.5 L715.2 241.1 L717.3 241.8 L717.6 241.8 L719.7 243.6 L721.8 245.0 L723.9 243.6 L726.0 240.8 L728.1 238.0 L730.2 234.4 L732.3 230.2 L734.4 225.3 L736.5 220.4 L738.6 215.5 L740.7 209.9 L742.8 205.7 L745.0 202.1 L747.1 199.3 L749.2 197.7 L751.3 196.9 L753.4 196.8 L755.5 197.9 L757.6 200.0 L759.7 201.4 L761.8 203.6 L763.9 204.9 L766.0 205.7 L768.1 206.3 L770.2 207.8 L772.3 209.4 L774.5 208.5 L776.6 208.5 L778.7 209.2 L780.8 209.9 L782.9 211.3 L785.0 214.1 L787.1 217.6 L789.2 221.8 L791.3 226.0 L793.4 230.2 L795.5 234.4 L797.6 238.0 L799.7 241.5 L801.8 244.3 L804.0 247.1 L806.0 249.9 L808.2 249.9 L810.3 249.2 L812.4 251.3 L814.5 254.1 L816.6 255.2 L818.7 254.4 L820.8 251.3 L822.9 247.1 L825.0 242.2 L827.1 236.6 L829.2 230.9 L831.3 225.3 L833.5 219.7 L835.5 214.1 L837.7 208.5 L839.8 202.1 L841.9 195.1 L844.0 188.8 L846.1 183.2 L848.2 177.6 L850.3 171.9 L852.4 165.6 L852.3 161.1 L854.4 152.7 L856.5 142.9 L858.6 134.4 L860.7 128.8 L862.8 125.3 L865.0 122.5 L867.1 120.7 L868.5 120.4 L869.9 121.8 L871.3 124.6 L873.4 126.7 L875.5 128.6 L877.6 129.5 L879.7 129.5 L881.8 127.4 L883.9 125.3 L886.0 124.6 L888.1 122.5 L890.2 119.7 L892.3 119.0 L894.5 118.3 L896.6 117.9 L898.7 117.6 L900.8 116.9 L902.9 116.2 L905.0 114.1 L907.1 111.3 L909.2 108.5 L911.3 105.7 L913.4 104.2 L915.5 104.7 L917.6 105.7 L919.7 105.7 L921.8 105.7 L924.0 106.3 L926.0 107.8 L928.2 108.5 L930.3 107.8 L932.4 105.0 L934.5 101.4 L936.6 95.1 L938.7 87.4 L940.8 81.1 L942.9 74.0 L945.0 67.7 L947.1 62.1 L948.1 60.0 L949.5 57.8 L951.6 57.1 L953.7 58.5 L955.8 62.0 L957.9 66.9 L960.0 73.2 L962.1 77.4 L964.2 84.5 L966.4 91.5 L968.5 96.0 L970.6 97.1 L972.7 96.0 L974.8 92.9 L976.9 88.7 L978.3 84.5 L979.7 82.3 L981.8 82.3 L983.9 83.8 L986.0 88.7 L988.1 94.3 L990.2 99.9 L992.3 105.5 L994.5 112.5 L995.9 118.2 L997.0 123.8 L998.0 130.0 L998.6 136.0 L1000.0 145.8 L1001.4 151.5 L1002.8 155.7 L1005.0 159.9 L1007.1 162.7 L1009.2 165.5 L1011.3 169.7 L1013.4 174.7 L1014.8 178.9 L1016.2 176.8 L1017.6 171.1 L1019.0 166.9 L1021.1 164.8 L1023.2 163.8 L1025.3 164.1 L1027.4 165.5 L1029.5 167.6 L1031.6 168.3 L1033.8 168.3 L1035.8 169.0 L1038.0 172.5 L1040.1 175.3 L1042.2 176.1 L1044.3 173.2 L1046.4 170.4 L1048.5 168.3 L1050.6 165.5 L1052.7 162.7 L1054.8 157.8 L1056.9 154.3 L1059.0 151.5 L1061.1 150.8 L1063.2 148.0 L1065.3 143.0 L1067.5 137.4 L1069.6 131.8 L1071.7 126.9 L1073.8 122.7 L1075.9 119.2 L1077.3 116.3 L1078.7 110.7 L1080.1 103.7 L1080.8 100.2" fill="none" stroke="#ff0000" stroke-width="2.08" stroke-linejoin="round" stroke-linecap="square" />
<path d="M245.7 377.1 L249.0 375.5 L252.5 374.2 L256.0 373.4 L259.5 373.0 L263.7 372.7 L267.9 372.0 L272.1 370.8 L276.4 369.0 L280.6 366.6 L286.2 364.0 L291.8 361.0 L297.4 357.8 L303.0 354.6 L308.7 351.7 L314.3 349.1 L319.9 347.2 L325.5 345.6 L331.1 344.2 L336.8 342.7 L342.4 341.2 L348.0 339.6 L353.6 337.5 L357.8 334.6 L362.0 331.1 L366.3 327.2 L370.5 322.9 L376.1 318.5 L381.7 315.0 L385.9 312.9 L386.4 311.5 L390.6 309.6 L394.8 307.0 L399.0 304.2 L403.2 301.5 L407.4 298.7 L411.6 295.7 L415.9 292.5 L420.1 289.8 L424.3 287.7 L428.5 286.2 L432.7 285.2 L436.9 284.7 L441.1 284.7 L445.4 284.9 L449.6 285.4 L453.8 286.1 L458.0 286.8 L462.2 287.5 L466.4 287.9 L470.6 287.8 L474.9 287.3 L479.1 286.2 L483.3 284.9 L487.5 283.5 L491.7 282.3 L495.9 281.4 L500.1 281.1 L504.3 281.3 L508.5 282.1 L512.7 283.5 L516.9 285.4 L521.1 287.6 L525.4 289.7 L529.6 291.6 L533.8 293.2 L538.0 294.7 L542.2 296.2 L546.4 297.7 L550.6 299.2 L554.9 300.8 L559.1 302.6 L563.3 304.6 L567.5 306.6 L571.7 308.7 L575.9 310.5 L576.9 311.9 L581.1 312.8 L585.3 313.4 L589.5 313.6 L593.7 313.5 L597.9 313.0 L602.1 312.1 L606.4 310.7 L610.6 308.9 L616.2 306.7 L621.8 304.6 L627.4 302.7 L633.0 301.4 L638.7 300.4 L644.3 299.5 L648.5 298.4 L652.7 296.7 L656.9 294.7 L661.1 292.4 L665.4 289.6 L669.6 286.6 L672.4 283.7 L675.9 281.1 L679.4 278.8 L683.6 276.6 L687.8 274.4 L692.0 272.2 L696.3 270.1 L700.5 268.1 L704.7 265.9 L708.9 263.4 L713.1 260.9 L715.9 258.5 L716.9 256.2 L721.1 253.3 L725.3 250.1 L729.5 246.9 L733.7 244.0 L737.9 241.1 L742.1 238.1 L746.4 235.4 L750.6 233.0 L754.8 231.0 L759.0 229.3 L763.2 227.7 L767.4 226.1 L771.6 224.4 L775.9 222.9 L780.1 221.8 L784.3 221.0 L788.5 220.7 L792.7 220.8 L796.9 221.3 L801.1 222.0 L805.4 223.1 L809.6 224.3 L813.8 225.7 L818.0 226.8 L822.2 227.6 L826.4 227.8 L830.6 227.6 L834.9 226.8 L839.1 225.5 L843.3 223.7 L847.5 221.4 L851.7 218.3 L855.9 214.7 L861.1 211.0 L865.3 207.7 L869.5 204.8 L873.7 201.6 L877.9 198.1 L882.1 194.8 L886.4 192.1 L890.6 189.8 L894.8 187.5 L899.0 185.2 L903.2 182.8 L907.4 180.0 L911.6 177.0 L915.9 174.1 L920.1 171.5 L924.3 169.1 L928.5 166.3 L932.7 163.0 L936.9 159.0 L941.1 154.2 L945.4 149.1 L949.6 144.2 L953.8 140.0 L958.0 136.0 L962.2 132.1 L966.4 128.1 L968.4 124.2 L971.2 120.6 L974.0 117.2 L976.9 114.2 L979.7 111.8 L982.5 110.0 L985.3 108.7 L988.1 107.6 L990.9 106.7 L993.7 106.2 L996.5 106.1 L999.3 106.6 L1002.1 107.3 L1005.0 108.3 L1007.8 109.3 L1010.6 110.4 L1013.4 111.3 L1016.2 112.1 L1020.4 112.9 L1024.6 113.9 L1028.8 115.2 L1033.0 116.9 L1037.3 118.5 L1041.5 119.7 L1045.7 120.7 L1049.9 121.6 L1054.1 122.7 L1058.3 123.7 L1062.5 124.5 L1066.8 124.8 L1071.0 124.7 L1075.2 124.4 L1079.4 124.0 L1080.5 123.7" fill="none" stroke="#800080" stroke-width="2.08" stroke-linejoin="round" stroke-linecap="square" />
<path d="M45.5 254.5 H1130.5" stroke="#ff0000" stroke-opacity="0.7" stroke-width="1.2" stroke-dasharray="8.9 2.2 1.4 2.2" fill="none"/>
<path d="M45.5 28.5 H1130.5" stroke="#008000" stroke-opacity="0.7" stroke-width="1.2" stroke-dasharray="8.9 2.2 1.4 2.2" fill="none"/>
<path d="M1080.5 471.5 V10.5" stroke="#ff0000" stroke-opacity="0.7" stroke-width="1.2" stroke-dasharray="5.14 2.22" fill="none"/>
</g>
<path d="M178.5 471.5 v5.4 M370.5 471.5 v5.4 M562.5 471.5 v5.4 M755.5 471.5 v5.4 M948.5 471.5 v5.4 M45.5 426.5 h-5.4 M45.5 364.5 h-5.4 M45.5 301.5 h-5.4 M45.5 239.5 h-5.4 M45.5 176.5 h-5.4 M45.5 114.5 h-5.4 M45.5 51.5 h-5.4" stroke="#000" stroke-width="1.11" fill="none"/>
<rect x="45.5" y="10.5" width="1085.0" height="461.0" fill="none" stroke="#000" stroke-width="1.11"/>
<text x="35.6" y="430.9" font-size="13.3" text-anchor="end" fill="#000" textLength="25.0" lengthAdjust="spacingAndGlyphs" >100</text>
<text x="35.6" y="368.9" font-size="13.3" text-anchor="end" fill="#000" textLength="25.0" lengthAdjust="spacingAndGlyphs" >125</text>
<text x="35.6" y="305.9" font-size="13.3" text-anchor="end" fill="#000" textLength="25.0" lengthAdjust="spacingAndGlyphs" >150</text>
<text x="35.6" y="243.9" font-size="13.3" text-anchor="end" fill="#000" textLength="25.0" lengthAdjust="spacingAndGlyphs" >175</text>
<text x="35.6" y="180.9" font-size="13.3" text-anchor="end" fill="#000" textLength="25.0" lengthAdjust="spacingAndGlyphs" >200</text>
<text x="35.6" y="118.9" font-size="13.3" text-anchor="end" fill="#000" textLength="25.0" lengthAdjust="spacingAndGlyphs" >225</text>
<text x="35.6" y="55.9" font-size="13.3" text-anchor="end" fill="#000" textLength="25.0" lengthAdjust="spacingAndGlyphs" >250</text>
<g id="legend">
<rect x="52.5" y="17.5" width="108" height="118.8" rx="2.8" fill="#fff" fill-opacity="0.8" stroke="#ccc" stroke-opacity="0.8" stroke-width="1.11"/>
<path d="M57.1 26.8 H85" stroke="#000" stroke-width="2.08" stroke-linecap="square" fill="none"/>
<path d="M57.1 46.9 H85" stroke="#008000" stroke-width="2.08" stroke-linecap="square" fill="none"/>
<path d="M57.1 67.8 H85" stroke="#ff0000" stroke-width="2.08" stroke-linecap="square" fill="none"/>
<path d="M57.1 86.9 H85" stroke="#800080" stroke-width="2.08" stroke-linecap="square" fill="none"/>
<polygon points="61.1,117.5 81.9,117.5 71.5,97.1" fill="#008000"/>
<polygon points="61.1,115.2 81.9,115.2 71.5,135.7" fill="#ff0000"/>
<text x="96.9" y="31.6" font-size="13.3" text-anchor="start" fill="#000" textLength="33.6" lengthAdjust="spacingAndGlyphs" >Close</text>
<text x="96.0" y="51.6" font-size="13.3" text-anchor="start" fill="#000" textLength="57.6" lengthAdjust="spacingAndGlyphs" >MA50[买]</text>
<text x="96.0" y="72.6" font-size="13.3" text-anchor="start" fill="#000" textLength="57.6" lengthAdjust="spacingAndGlyphs" >MA25[卖]</text>
<text x="96.0" y="91.7" font-size="13.3" text-anchor="start" fill="#000" textLength="43.2" lengthAdjust="spacingAndGlyphs" >MA200</text>
<text x="96.0" y="109.8" font-size="13.3" text-anchor="start" fill="#000" textLength="21.0" lengthAdjust="spacingAndGlyphs" >Buy</text>
<text x="96.8" y="128.6" font-size="13.3" text-anchor="start" fill="#000" textLength="22.4" lengthAdjust="spacingAndGlyphs" >Sell</text>
</g>
<g id="annot">
<rect x="936.8" y="380.5" width="176.4" height="71.7" rx="4.5" fill="#fff" fill-opacity="0.9" stroke="#ff0000" stroke-width="1.11"/>
<text x="1107.8" y="395.6" font-size="14.6" text-anchor="end" fill="#ff0000" textLength="151.8" lengthAdjust="spacingAndGlyphs" >234.35 (-3.55 -1.49%)</text>
<text x="1107.8" y="412.3" font-size="14.6" text-anchor="end" fill="#ff0000" textLength="109.0" lengthAdjust="spacingAndGlyphs" >168.85~259.20</text>
<text x="1107.8" y="428.3" font-size="14.6" text-anchor="end" fill="#ff0000" textLength="166.0" lengthAdjust="spacingAndGlyphs" >229.24/219.68/221.02</text>
<text x="1107.8" y="444.4" font-size="14.6" text-anchor="end" fill="#ff0000" textLength="128.5" lengthAdjust="spacingAndGlyphs" >2025-09-09 04:00</text>
</g>
</g>
<g id="volume-axes">
<path d="M178.5 486.5 V640.4 M370.5 486.5 V640.4 M562.5 486.5 V640.4 M755.5 486.5 V640.4 M948.5 486.5 V640.4 M45.5 640.5 H1130.5 M45.5 598.5 H1130.5 M45.5 557.5 H1130.5 M45.5 515.5 H1130.5" stroke="#b0b0b0" stroke-width="1.11" fill="none"/>
<path d="M94.5 640.4V608.7 M95.5 640.4V601.5 M96.5 640.4V564.5 M98.5 640.4V609.4 M99.5 640.4V614.1 M102.5 640.4V608.7 M103.5 640.4V595.2 M105.5 640.4V602.9 M106.5 640.4V596.2 M107.5 640.4V574.6 M111.5 640.4V603.5 M113.5 640.4V605.6 M114.5 640.4V583.8 M116.5 640.4V598.9 M117.5 640.4V594.8 M118.5 640.4V602.8 M121.5 640.4V619.6 M122.5 640.4V619.9 M124.5 640.4V614.7 M125.5 640.4V611.6 M127.5 640.4V605.1 M128.5 640.4V608.3 M131.5 640.4V603.2 M132.5 640.4V613.2 M133.5 640.4V605.3 M135.5 640.4V541.3 M136.5 640.4V613.5 M138.5 640.4V590.0 M140.5 640.4V589.6 M142.5 640.4V603.3 M143.5 640.4V578.5 M144.5 640.4V570.0 M146.5 640.4V614.3 M147.5 640.4V611.4 M150.5 640.4V609.6 M151.5 640.4V602.8 M153.5 640.4V606.6 M154.5 640.4V612.4 M155.5 640.4V616.0 M157.5 640.4V613.0 M161.5 640.4V596.8 M162.5 640.4V615.1 M164.5 640.4V606.9 M165.5 640.4V605.3 M166.5 640.4V619.4 M170.5 640.4V608.8 M172.5 640.4V593.6 M173.5 640.4V622.3 M175.5 640.4V611.9 M176.5 640.4V610.2 M179.5 640.4V615.5 M180.5 640.4V593.6 M181.5 640.4V610.0 M183.5 640.4V619.6 M184.5 640.4V601.9 M186.5 640.4V603.6 M190.5 640.4V600.9 M191.5 640.4V595.3 M192.5 640.4V584.6 M194.5 640.4V608.8 M195.5 640.4V618.8 M199.5 640.4V604.5 M201.5 640.4V614.6 M202.5 640.4V613.5 M203.5 640.4V618.8 M205.5 640.4V576.7 M206.5 640.4V614.2 M209.5 640.4V597.8 M210.5 640.4V584.6 M212.5 640.4V576.7 M213.5 640.4V608.3 M214.5 640.4V596.2 M216.5 640.4V593.6 M218.5 640.4V606.9 M220.5 640.4V623.6 M221.5 640.4V626.4 M223.5 640.4V611.1 M224.5 640.4V618.9 M225.5 640.4V621.3 M228.5 640.4V608.3 M229.5 640.4V607.7 M231.5 640.4V615.9 M232.5 640.4V615.8 M234.5 640.4V615.4 M235.5 640.4V606.6 M238.5 640.4V614.5 M239.5 640.4V615.3 M240.5 640.4V596.3 M242.5 640.4V592.1 M243.5 640.4V609.8 M247.5 640.4V612.6 M249.5 640.4V615.7 M250.5 640.4V627.8 M251.5 640.4V622.4 M253.5 640.4V613.8 M254.5 640.4V627.3 M257.5 640.4V620.4 M258.5 640.4V612.8 M260.5 640.4V625.7 M261.5 640.4V608.3 M262.5 640.4V616.3 M264.5 640.4V620.5 M268.5 640.4V618.0 M269.5 640.4V616.0 M271.5 640.4V619.3 M272.5 640.4V612.8 M273.5 640.4V623.4 M277.5 640.4V622.4 M279.5 640.4V613.9 M280.5 640.4V599.9 M282.5 640.4V624.7 M283.5 640.4V614.8 M286.5 640.4V611.2 M287.5 640.4V605.1 M288.5 640.4V626.8 M290.5 640.4V621.6 M291.5 640.4V621.7 M293.5 640.4V622.5 M297.5 640.4V612.4 M298.5 640.4V625.8 M299.5 640.4V613.6 M301.5 640.4V626.8 M302.5 640.4V624.9 M306.5 640.4V617.7 M308.5 640.4V614.4 M309.5 640.4V616.2 M310.5 640.4V601.7 M312.5 640.4V620.4 M316.5 640.4V620.3 M317.5 640.4V617.8 M319.5 640.4V621.9 M320.5 640.4V619.5 M321.5 640.4V617.8 M325.5 640.4V620.9 M327.5 640.4V616.5 M328.5 640.4V617.7 M330.5 640.4V608.7 M331.5 640.4V619.1 M332.5 640.4V622.9 M335.5 640.4V622.6 M336.5 640.4V603.8 M338.5 640.4V615.2 M339.5 640.4V622.4 M341.5 640.4V618.5 M342.5 640.4V608.4 M345.5 640.4V630.4 M346.5 640.4V625.7 M347.5 640.4V591.1 M349.5 640.4V618.3 M350.5 640.4V619.2 M354.5 640.4V592.8 M356.5 640.4V616.6 M357.5 640.4V618.9 M358.5 640.4V623.0 M360.5 640.4V607.9 M361.5 640.4V586.9 M364.5 640.4V623.1 M365.5 640.4V620.7 M367.5 640.4V620.4 M368.5 640.4V619.1 M369.5 640.4V629.7 M371.5 640.4V620.1 M375.5 640.4V607.8 M376.5 640.4V621.8 M378.5 640.4V614.5 M379.5 640.4V605.7 M380.5 640.4V606.4 M384.5 640.4V565.6 M386.5 640.4V623.2 M387.5 640.4V615.7 M389.5 640.4V615.6 M390.5 640.4V608.3 M393.5 640.4V603.9 M394.5 640.4V627.1 M395.5 640.4V603.9 M397.5 640.4V621.9 M398.5 640.4V595.7 M400.5 640.4V622.1 M404.5 640.4V611.7 M405.5 640.4V602.6 M406.5 640.4V614.1 M408.5 640.4V611.5 M409.5 640.4V606.4 M413.5 640.4V611.8 M415.5 640.4V613.5 M416.5 640.4V598.8 M417.5 640.4V603.9 M419.5 640.4V614.9 M423.5 640.4V595.5 M424.5 640.4V620.0 M426.5 640.4V605.0 M427.5 640.4V614.6 M428.5 640.4V611.7 M432.5 640.4V571.0 M434.5 640.4V610.9 M435.5 640.4V579.8 M437.5 640.4V621.9 M438.5 640.4V583.4 M439.5 640.4V607.5 M442.5 640.4V576.9 M443.5 640.4V619.2 M445.5 640.4V590.0 M446.5 640.4V601.1 M448.5 640.4V606.2 M449.5 640.4V598.8 M452.5 640.4V618.6 M453.5 640.4V612.4 M454.5 640.4V619.8 M456.5 640.4V606.1 M457.5 640.4V586.9 M461.5 640.4V618.5 M463.5 640.4V598.2 M464.5 640.4V604.2 M465.5 640.4V613.9 M467.5 640.4V624.0 M468.5 640.4V600.0 M471.5 640.4V613.5 M472.5 640.4V616.9 M474.5 640.4V609.7 M475.5 640.4V609.6 M476.5 640.4V599.2 M478.5 640.4V619.5 M480.5 640.4V596.7 M482.5 640.4V603.2 M483.5 640.4V599.5 M485.5 640.4V600.0 M486.5 640.4V614.3 M487.5 640.4V618.0 M490.5 640.4V604.5 M491.5 640.4V612.3 M493.5 640.4V612.2 M494.5 640.4V600.5 M496.5 640.4V615.1 M497.5 640.4V625.7 M500.5 640.4V615.9 M501.5 640.4V623.9 M502.5 640.4V606.7 M504.5 640.4V585.9 M505.5 640.4V617.5 M507.5 640.4V613.5 M511.5 640.4V606.7 M512.5 640.4V563.9 M513.5 640.4V602.0 M515.5 640.4V614.0 M516.5 640.4V604.9 M520.5 640.4V591.1 M522.5 640.4V599.2 M523.5 640.4V618.1 M524.5 640.4V606.6 M526.5 640.4V624.3 M528.5 640.4V563.9 M530.5 640.4V620.5 M531.5 640.4V584.4 M533.5 640.4V605.1 M534.5 640.4V621.3 M535.5 640.4V589.6 M539.5 640.4V615.3 M541.5 640.4V614.2 M542.5 640.4V617.9 M544.5 640.4V612.4 M545.5 640.4V597.9 M546.5 640.4V613.8 M549.5 640.4V610.1 M550.5 640.4V606.1 M552.5 640.4V615.6 M553.5 640.4V592.1 M555.5 640.4V617.9 M556.5 640.4V605.6 M559.5 640.4V623.6 M560.5 640.4V618.3 M561.5 640.4V607.0 M563.5 640.4V595.7 M564.5 640.4V616.1 M568.5 640.4V612.2 M570.5 640.4V617.5 M571.5 640.4V624.7 M572.5 640.4V626.5 M574.5 640.4V623.3 M575.5 640.4V615.0 M578.5 640.4V624.3 M579.5 640.4V597.4 M581.5 640.4V625.7 M582.5 640.4V628.5 M583.5 640.4V623.1 M585.5 640.4V627.5 M589.5 640.4V621.1 M590.5 640.4V631.1 M592.5 640.4V621.6 M593.5 640.4V625.9 M594.5 640.4V630.2 M597.5 640.4V619.8 M598.5 640.4V624.7 M600.5 640.4V631.1 M601.5 640.4V627.2 M603.5 640.4V622.5 M604.5 640.4V625.8 M607.5 640.4V620.3 M608.5 640.4V620.6 M609.5 640.4V621.1 M611.5 640.4V622.9 M612.5 640.4V617.6 M614.5 640.4V621.6 M618.5 640.4V622.9 M619.5 640.4V631.5 M620.5 640.4V620.8 M622.5 640.4V618.7 M623.5 640.4V626.4 M627.5 640.4V627.2 M629.5 640.4V616.4 M630.5 640.4V631.2 M631.5 640.4V623.8 M633.5 640.4V616.8 M637.5 640.4V629.2 M638.5 640.4V623.3 M640.5 640.4V617.5 M641.5 640.4V626.6 M642.5 640.4V623.8 M644.5 640.4V595.7 M646.5 640.4V621.8 M648.5 640.4V628.8 M649.5 640.4V625.9 M651.5 640.4V624.1 M652.5 640.4V621.6 M653.5 640.4V625.3 M656.5 640.4V625.8 M657.5 640.4V628.6 M659.5 640.4V626.2 M660.5 640.4V620.4 M662.5 640.4V624.0 M663.5 640.4V627.7 M666.5 640.4V627.4 M667.5 640.4V614.0 M668.5 640.4V618.2 M670.5 640.4V620.8 M671.5 640.4V631.8 M675.5 640.4V620.4 M677.5 640.4V586.9 M678.5 640.4V613.5 M679.5 640.4V621.1 M681.5 640.4V623.3 M682.5 640.4V620.3 M685.5 640.4V629.8 M686.5 640.4V616.9 M688.5 640.4V620.8 M689.5 640.4V625.4 M690.5 640.4V614.6 M692.5 640.4V611.0 M693.5 640.4V595.7 M696.5 640.4V608.9 M697.5 640.4V625.1 M699.5 640.4V620.6 M700.5 640.4V621.2 M701.5 640.4V623.9 M704.5 640.4V600.3 M705.5 640.4V610.5 M707.5 640.4V616.1 M708.5 640.4V627.0 M710.5 640.4V627.5 M711.5 640.4V611.2 M712.5 640.4V612.0 M714.5 640.4V616.2 M715.5 640.4V610.2 M716.5 640.4V617.3 M718.5 640.4V625.6 M719.5 640.4V600.9 M721.5 640.4V629.9 M723.5 640.4V597.4 M725.5 640.4V625.0 M726.5 640.4V621.9 M727.5 640.4V603.6 M729.5 640.4V624.9 M730.5 640.4V622.1 M734.5 640.4V619.0 M736.5 640.4V619.4 M737.5 640.4V617.8 M738.5 640.4V620.2 M740.5 640.4V622.9 M744.5 640.4V617.2 M745.5 640.4V598.4 M747.5 640.4V625.5 M748.5 640.4V624.8 M749.5 640.4V622.0 M753.5 640.4V622.8 M755.5 640.4V621.7 M756.5 640.4V622.5 M758.5 640.4V621.8 M759.5 640.4V623.4 M760.5 640.4V627.9 M763.5 640.4V621.0 M764.5 640.4V617.5 M766.5 640.4V621.2 M767.5 640.4V624.2 M769.5 640.4V621.4 M770.5 640.4V627.4 M771.5 640.4V605.5 M773.5 640.4V630.4 M774.5 640.4V623.6 M775.5 640.4V627.6 M777.5 640.4V620.6 M778.5 640.4V628.3 M782.5 640.4V631.8 M784.5 640.4V628.1 M785.5 640.4V615.7 M786.5 640.4V625.8 M788.5 640.4V629.1 M789.5 640.4V627.1 M792.5 640.4V621.7 M793.5 640.4V621.8 M795.5 640.4V623.2 M796.5 640.4V616.0 M797.5 640.4V620.6 M799.5 640.4V624.1 M803.5 640.4V621.1 M804.5 640.4V614.7 M806.5 640.4V619.0 M807.5 640.4V618.6 M808.5 640.4V628.0 M810.5 640.4V598.4 M811.5 640.4V624.4 M812.5 640.4V620.2 M814.5 640.4V625.0 M815.5 640.4V618.2 M817.5 640.4V620.8 M818.5 640.4V619.1 M821.5 640.4V624.5 M822.5 640.4V613.1 M823.5 640.4V617.0 M825.5 640.4V624.5 M826.5 640.4V623.1 M828.5 640.4V613.0 M832.5 640.4V624.9 M833.5 640.4V618.9 M834.5 640.4V618.3 M836.5 640.4V623.3 M837.5 640.4V627.9 M840.5 640.4V582.7 M841.5 640.4V622.5 M843.5 640.4V600.5 M844.5 640.4V617.6 M845.5 640.4V619.7 M847.5 640.4V623.6 M851.5 640.4V619.6 M852.5 640.4V621.4 M854.5 640.4V623.1 M855.5 640.4V623.8 M856.5 640.4V625.1 M860.5 640.4V621.1 M862.5 640.4V628.3 M863.5 640.4V626.9 M865.5 640.4V624.6 M866.5 640.4V629.7 M867.5 640.4V626.4 M869.5 640.4V585.9 M870.5 640.4V631.3 M871.5 640.4V627.4 M873.5 640.4V622.4 M874.5 640.4V622.5 M876.5 640.4V625.3 M877.5 640.4V626.1 M880.5 640.4V630.0 M881.5 640.4V615.9 M882.5 640.4V623.0 M884.5 640.4V620.1 M885.5 640.4V628.4 M889.5 640.4V625.9 M891.5 640.4V631.0 M892.5 640.4V621.6 M893.5 640.4V563.7 M895.5 640.4V631.1 M896.5 640.4V625.2 M899.5 640.4V622.2 M900.5 640.4V630.7 M902.5 640.4V630.9 M903.5 640.4V628.7 M904.5 640.4V627.3 M906.5 640.4V629.7 M910.5 640.4V624.7 M911.5 640.4V623.7 M913.5 640.4V621.9 M914.5 640.4V621.5 M915.5 640.4V617.0 M918.5 640.4V603.0 M919.5 640.4V629.3 M921.5 640.4V626.6 M922.5 640.4V628.5 M924.5 640.4V628.5 M925.5 640.4V624.9 M928.5 640.4V624.5 M929.5 640.4V622.3 M930.5 640.4V630.0 M932.5 640.4V629.0 M933.5 640.4V624.6 M935.5 640.4V625.3 M939.5 640.4V625.7 M940.5 640.4V609.9 M941.5 640.4V627.3 M943.5 640.4V621.0 M944.5 640.4V622.7 M948.5 640.4V623.4 M950.5 640.4V625.1 M951.5 640.4V622.6 M952.5 640.4V631.1 M954.5 640.4V625.1 M958.5 640.4V592.1 M959.5 640.4V625.8 M961.5 640.4V583.8 M962.5 640.4V617.4 M963.5 640.4V625.1 M965.5 640.4V592.1 M967.5 640.4V619.8 M969.5 640.4V620.1 M970.5 640.4V615.4 M972.5 640.4V614.4 M973.5 640.4V618.5 M974.5 640.4V622.8 M977.5 640.4V619.2 M978.5 640.4V618.7 M980.5 640.4V613.5 M981.5 640.4V616.5 M983.5 640.4V622.2 M984.5 640.4V588.6 M985.5 640.4V594.2 M987.5 640.4V620.4 M988.5 640.4V622.3 M989.5 640.4V624.0 M991.5 640.4V619.0 M992.5 640.4V621.0 M996.5 640.4V573.9 M997.5 640.4V512.7 M998.5 640.4V615.0 M999.5 640.4V493.9 M1000.5 640.4V576.0 M1002.5 640.4V620.1 M1003.5 640.4V602.0 M1006.5 640.4V617.6 M1007.5 640.4V610.6 M1009.5 640.4V628.7 M1010.5 640.4V622.4 M1011.5 640.4V617.0 M1013.5 640.4V600.5 M1017.5 640.4V605.8 M1018.5 640.4V617.3 M1020.5 640.4V610.8 M1021.5 640.4V614.7 M1022.5 640.4V613.6 M1025.5 640.4V616.8 M1026.5 640.4V620.8 M1028.5 640.4V617.2 M1029.5 640.4V600.9 M1031.5 640.4V613.1 M1032.5 640.4V625.3 M1035.5 640.4V619.5 M1036.5 640.4V608.8 M1037.5 640.4V622.2 M1039.5 640.4V621.2 M1040.5 640.4V614.3 M1042.5 640.4V621.1 M1043.5 640.4V594.2 M1046.5 640.4V624.9 M1047.5 640.4V619.8 M1048.5 640.4V617.9 M1050.5 640.4V617.0 M1051.5 640.4V624.6 M1055.5 640.4V609.3 M1057.5 640.4V609.9 M1058.5 640.4V620.8 M1059.5 640.4V619.4 M1061.5 640.4V600.5 M1062.5 640.4V594.2 M1063.5 640.4V580.6 M1065.5 640.4V611.6 M1066.5 640.4V624.1 M1068.5 640.4V616.7 M1069.5 640.4V623.0 M1070.5 640.4V623.9 M1074.5 640.4V616.3 M1076.5 640.4V611.9 M1077.5 640.4V620.5 M1079.5 640.4V623.7 M1080.5 640.4V594.8" stroke="#bfbfbf" stroke-width="1" fill="none" shape-rendering="crispEdges"/>
<path d="M178.5 640.4 v5.4 M370.5 640.4 v5.4 M562.5 640.4 v5.4 M755.5 640.4 v5.4 M948.5 640.4 v5.4 M45.5 640.5 h-5.4 M45.5 598.5 h-5.4 M45.5 557.5 h-5.4 M45.5 515.5 h-5.4" stroke="#000" stroke-width="1.11" fill="none"/>
<rect x="45.5" y="486.5" width="1085.0" height="153.89999999999998" fill="none" stroke="#000" stroke-width="1.11"/>
<text x="35.8" y="644.9" font-size="13.3" text-anchor="end" fill="#000" textLength="9.0" lengthAdjust="spacingAndGlyphs" >0</text>
<text x="35.8" y="602.9" font-size="13.3" text-anchor="end" fill="#000" textLength="9.0" lengthAdjust="spacingAndGlyphs" >2</text>
<text x="35.8" y="561.9" font-size="13.3" text-anchor="end" fill="#000" textLength="9.0" lengthAdjust="spacingAndGlyphs" >4</text>
<text x="35.8" y="519.9" font-size="13.3" text-anchor="end" fill="#000" textLength="9.0" lengthAdjust="spacingAndGlyphs" >6</text>
<text x="177.6" y="659.3" font-size="13.3" text-anchor="middle" fill="#000" textLength="53.6" lengthAdjust="spacingAndGlyphs" >2021-01</text>
<text x="369.6" y="659.3" font-size="13.3" text-anchor="middle" fill="#000" textLength="53.6" lengthAdjust="spacingAndGlyphs" >2022-01</text>
<text x="561.6" y="659.3" font-size="13.3" text-anchor="middle" fill="#000" textLength="53.6" lengthAdjust="spacingAndGlyphs" >2023-01</text>
<text x="754.6" y="659.3" font-size="13.3" text-anchor="middle" fill="#000" textLength="53.6" lengthAdjust="spacingAndGlyphs" >2024-01</text>
<text x="947.6" y="659.3" font-size="13.3" text-anchor="middle" fill="#000" textLength="53.6" lengthAdjust="spacingAndGlyphs" >2025-01</text>
<text x="44.9" y="482.2" font-size="13.3" text-anchor="start" fill="#000" textLength="23.6" lengthAdjust="spacingAndGlyphs" >1e6</text>
<text transform="translate(18.6 565.2) rotate(-90)" font-size="13.3" text-anchor="middle" textLength="44.0" lengthAdjust="spacingAndGlyphs">Volume</text>
</g>
<g id="summary" font-size="16.6">
<text x="45.4" y="695.7" font-size="16.6" text-anchor="start" fill="#000" textLength="36.0" lengthAdjust="spacingAndGlyphs" >AAPL</text>
<text x="85.7" y="695.7" font-size="16.6" text-anchor="start" fill="#000" >交易次数:</text>
<text x="162.8" y="695.7" font-size="16.6" text-anchor="start" fill="#000" textLength="9.6" lengthAdjust="spacingAndGlyphs" >4</text>
<text x="45.6" y="717.0" font-size="16.6" text-anchor="start" fill="#000" >策略总收益率:</text>
<text x="154.0" y="717.0" font-size="16.6" text-anchor="start" fill="#000" textLength="67.8" lengthAdjust="spacingAndGlyphs" >133.86%</text>
<text x="45.6" y="736.4" font-size="16.6" text-anchor="start" fill="#000" >长期持有收益:</text>
<text x="154.0" y="736.4" font-size="16.6" text-anchor="start" fill="#000" textLength="67.8" lengthAdjust="spacingAndGlyphs" >112.79%</text>
<text x="45.6" y="755.6" font-size="16.6" text-anchor="start" fill="#000" >交易记录:</text>
</g>
<g id="trades" font-size="16.6">
<text x="54.4" y="772.8" font-size="16.6" text-anchor="start" fill="#000" textLength="66.2" lengthAdjust="spacingAndGlyphs" >Buy Date</text>
<text x="131.0" y="772.8" font-size="16.6" text-anchor="start" fill="#000" textLength="66.3" lengthAdjust="spacingAndGlyphs" >Buy Price</text>
<text x="207.9" y="772.8" font-size="16.6" text-anchor="start" fill="#000" textLength="65.6" lengthAdjust="spacingAndGlyphs" >Sell Date</text>
<text x="284.0" y="772.8" font-size="16.6" text-anchor="start" fill="#000" textLength="67.6" lengthAdjust="spacingAndGlyphs" >Sell Price</text>
<text x="361.6" y="772.8" font-size="16.6" text-anchor="start" fill="#000" textLength="95.8" lengthAdjust="spacingAndGlyphs" >Holding Days</text>
<text x="467.0" y="772.8" font-size="16.6" text-anchor="start" fill="#000" textLength="54.3" lengthAdjust="spacingAndGlyphs" >Profit %</text>
<text x="45.2" y="789.7" font-size="16.6" text-anchor="start" fill="#000" textLength="89.6" lengthAdjust="spacingAndGlyphs" >2020-10-06</text>
<text x="159.8" y="789.7" font-size="16.6" text-anchor="start" fill="#000" textLength="54.6" lengthAdjust="spacingAndGlyphs" >110.13</text>
<text x="219.6" y="789.7" font-size="16.6" text-anchor="start" fill="#000" textLength="90.2" lengthAdjust="spacingAndGlyphs" >2021-08-10</text>
<text x="339.4" y="789.7" font-size="16.6" text-anchor="start" fill="#000" textLength="54.6" lengthAdjust="spacingAndGlyphs" >142.51</text>
<text x="449.0" y="789.7" font-size="16.6" text-anchor="start" fill="#000" textLength="29.8" lengthAdjust="spacingAndGlyphs" >308</text>
<text x="504.1" y="789.7" font-size="16.6" text-anchor="start" fill="#000" textLength="44.6" lengthAdjust="spacingAndGlyphs" >29.40</text>
<text x="45.2" y="806.8" font-size="16.6" text-anchor="start" fill="#000" textLength="89.6" lengthAdjust="spacingAndGlyphs" >2021-09-17</text>
<text x="159.8" y="806.8" font-size="16.6" text-anchor="start" fill="#000" textLength="54.6" lengthAdjust="spacingAndGlyphs" >143.03</text>
<text x="219.6" y="806.8" font-size="16.6" text-anchor="start" fill="#000" textLength="90.2" lengthAdjust="spacingAndGlyphs" >2022-01-12</text>
<text x="339.4" y="806.8" font-size="16.6" text-anchor="start" fill="#000" textLength="54.6" lengthAdjust="spacingAndGlyphs" >172.07</text>
<text x="449.0" y="806.8" font-size="16.6" text-anchor="start" fill="#000" textLength="29.8" lengthAdjust="spacingAndGlyphs" >117</text>
<text x="504.1" y="806.8" font-size="16.6" text-anchor="start" fill="#000" textLength="44.6" lengthAdjust="spacingAndGlyphs" >20.30</text>
<text x="45.2" y="824.2" font-size="16.6" text-anchor="start" fill="#000" textLength="89.6" lengthAdjust="spacingAndGlyphs" >2022-01-19</text>
<text x="159.8" y="824.2" font-size="16.6" text-anchor="start" fill="#000" textLength="54.6" lengthAdjust="spacingAndGlyphs" >162.97</text>
<text x="219.6" y="824.2" font-size="16.6" text-anchor="start" fill="#000" textLength="90.2" lengthAdjust="spacingAndGlyphs" >2024-07-24</text>
<text x="339.4" y="824.2" font-size="16.6" text-anchor="start" fill="#000" textLength="54.6" lengthAdjust="spacingAndGlyphs" >217.34</text>
<text x="449.0" y="824.2" font-size="16.6" text-anchor="start" fill="#000" textLength="29.8" lengthAdjust="spacingAndGlyphs" >916</text>
<text x="504.1" y="824.2" font-size="16.6" text-anchor="start" fill="#000" textLength="44.6" lengthAdjust="spacingAndGlyphs" >33.36</text>
<text x="45.2" y="841.6" font-size="16.6" text-anchor="start" fill="#000" textLength="89.6" lengthAdjust="spacingAndGlyphs" >2024-08-05</text>
<text x="159.8" y="841.6" font-size="16.6" text-anchor="start" fill="#000" textLength="54.6" lengthAdjust="spacingAndGlyphs" >208.04</text>
<text x="219.6" y="841.6" font-size="16.6" text-anchor="start" fill="#000" textLength="90.2" lengthAdjust="spacingAndGlyphs" >2025-09-09</text>
<text x="339.4" y="841.6" font-size="16.6" text-anchor="start" fill="#000" textLength="54.6" lengthAdjust="spacingAndGlyphs" >234.35</text>
<text x="449.0" y="841.6" font-size="16.6" text-anchor="start" fill="#000" textLength="29.8" lengthAdjust="spacingAndGlyphs" >400</text>
<text x="504.1" y="841.6" font-size="16.6" text-anchor="start" fill="#000" textLength="44.6" lengthAdjust="spacingAndGlyphs" >12.65</text>
</g>
</svg>
</body></html>
